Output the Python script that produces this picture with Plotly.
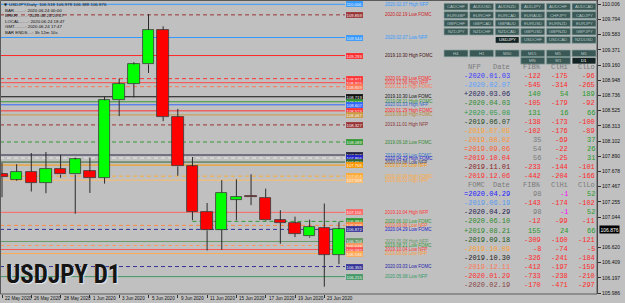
import plotly.graph_objects as go

W, H = 625, 303
PLOT_R = 597   # right edge of price area (px)
PLOT_B = 294   # bottom edge of price area (px)
BAR_PX = 14.65 # pixel spacing between daily bars
BAR0_PX = 2.0  # pixel of first bar

# ---------------- data ----------------
bar_dates = ["22 May", "25 May", "26 May", "27 May", "28 May", "29 May", "1 Jun", "2 Jun",
             "3 Jun", "4 Jun", "5 Jun", "8 Jun", "9 Jun", "10 Jun", "11 Jun", "12 Jun",
             "15 Jun", "16 Jun", "17 Jun", "18 Jun", "19 Jun", "22 Jun", "23 Jun", "24 Jun"]
opens = [107.64, 107.567, 107.674, 107.52, 107.72, 107.637, 107.68, 107.59,
         108.67, 108.90, 109.17, 109.65, 108.44, 107.75, 107.12, 106.868,
         107.288, 107.34, 107.316, 106.998, 106.96, 106.774, 106.896, 106.518]
highs = [107.80, 107.78, 107.935, 107.95, 107.91, 107.87, 107.87, 108.72,
         108.97, 109.20, 109.87, 109.70, 108.55, 107.88, 107.24, 107.558,
         107.57, 107.64, 107.44, 107.14, 107.05, 107.008, 107.232, 106.978]
lows = [107.32, 107.55, 107.40, 107.376, 107.59, 107.09, 107.38, 107.51,
        108.45, 108.71, 109.05, 108.38, 107.62, 107.00, 106.58, 106.588,
        106.998, 107.21, 106.99, 106.672, 106.765, 106.756, 106.075, 106.388]
closes = [107.60, 107.674, 107.52, 107.72, 107.637, 107.847, 107.59, 108.67,
          108.90, 109.17, 109.65, 108.44, 107.75, 107.12, 106.86, 107.386,
          107.326, 107.32, 106.998, 106.966, 106.812, 106.905, 106.522, 106.876]

date_tick_bars = [0, 2, 4, 6, 8, 10, 12, 14, 16, 18, 20, 22]
date_tick_text = ["22 May 2020", "26 May 2020", "28 May 2020", "1 Jun 2020", "3 Jun 2020",
                  "5 Jun 2020", "9 Jun 2020", "11 Jun 2020", "15 Jun 2020", "17 Jun 2020",
                  "19 Jun 2020", "23 Jun 2020"]

price_tick_text = ["110.006", "109.794", "109.583", "109.371", "109.160", "108.948", "108.736",
                   "108.525", "108.313", "108.102", "107.890", "107.678", "107.467", "107.255",
                   "107.044", "106.620", "106.409", "106.197", "105.986"]
current_price = 106.876
y_top, y_bottom = 110.066, 105.973

header_lines = ["USDJPY,Daily  106.518 106.978 106.388 106.876",
                "BAR.........: 2020.06.24 00:00",
                "BRKR........: 2020.06.24 20:47",
                "LOCAL.......: 2020.06.24 18:47",
                "GMT.........: 2020.06.24 17:47",
                "BAR ENDS....: 3h 12m 10s"]

level_prices = [110.006, 109.859, 109.544, 109.293, 108.971, 108.915, 108.859, 108.719,
                108.649, 108.607, 108.523, 108.467, 108.327, 108.089, 107.908, 107.866,
                107.810, 107.768, 107.614, 107.558, 107.110, 106.984, 106.928, 106.872,
                106.704, 106.648, 106.592, 106.536, 106.355, 106.215]
level_labels = ["2020.02.07 High NFP", "2020.02.19 Low FOMC", "2020.02.07 Low NFP",
                "2019.10.30 High FOMC", "2020.01.29 Low FOMC", "2019.12.06 High NFP",
                "2019.12.11 High FOMC", "2019.10.30 Low FOMC", "2019.08.21 High FOMC",
                "2020.01.03 High NFP", "2020.01.29 High FOMC", "2019.09.18 High FOMC",
                "2019.11.01 High NFP", "2019.09.18 Low FOMC", "2019.06.19 Low FOMC",
                "2020.04.29 High FOMC", "2020.03.06 Low NFP", "2019.07.05 Low NFP",
                "2019.10.09 High FOMC", "2019.08.02 High NFP", "2019.10.04 High NFP",
                "2020.06.10 Low FOMC", "2019.09.06 Low NFP", "2020.04.29 Low FOMC",
                "2020.05.08 High NFP", "2019.08.21 Low FOMC", "2019.10.04 Low NFP",
                "2019.08.02 Low NFP", "2020.03.03 Low FOMC", "2020.05.08 Low NFP"]
level_start_bar = [None] * 21 + [13] + [None] * 8

nfp_dates = ["-2020.01.03", "-2020.02.07", "+2020.03.06", "-2020.04.03", "+2020.05.08",
             "-2019.06.07", "-2019.07.05", "-2019.08.02", "=2019.09.06", "=2019.10.04",
             "-2019.11.01", "-2019.12.06"]
nfp_fib = [-122, -545, 140, -105, 131, -138, -102, 35, 54, 56, -233, -442]
nfp_clhi = [-175, -314, 54, -179, 16, -173, -176, -69, -22, -25, -144, -204]
nfp_cllo = [-96, -265, 189, -92, 66, -100, -89, 37, 26, 31, -101, -166]

fomc_dates = ["=2020.04.29", "-2019.06.19", "-2020.04.29", "-2020.06.10", "+2019.08.21",
              "-2019.09.18", "-2019.10.09", "-2019.10.30", "-2019.12.11", "-2020.01.29",
              "-2020.02.19"]
fomc_fib = [98, -143, 98, -12, 155, -309, -8, -326, -412, -733, -170]
fomc_clhi = [-1, -174, -1, -99, 24, -160, -74, -241, -197, -238, -471]
fomc_cllo = [52, -102, 52, -11, 66, -121, -5, -184, -159, -210, -297]

symbol_rows = [["CADCHF", "AUDUSD", "AUDNZD", "AUDJPY", "AUDCHF", "AUDCAD"],
               ["EURGBP", "EURCHF", "EURCAD", "EURAUD", "CHFJPY", "CADJPY"],
               ["GBPCHF", "GBPCAD", "GBPAUD", "EURUSD", "EURNZD", "EURJPY"],
               ["NZDJPY", "NZDCHF", "NZDCAD", "GBPUSD", "GBPNZD", "GBPJPY"],
               [None, None, "USDJPY", "USDCHF", "USDCAD", "NZDUSD"]]
tf_rows = [["H4", "H1", "M30", "M15", "M5", "M1"],
           [None, None, None, "MN", "W1", "D1"]]
active_symbol, active_tf = "USDJPY", "D1"

# ---------------- styles ----------------
BG = "#c0c0c0"
level_colors = ["#3399ff", "#993333", "#3399ff", "#ff2a2a", "#ff3333", "#ff4a4a", "#ff7755",
                "#111111", "#339933", "#3366ff", "#ff3333", "#cc9944", "#993333", "#339933",
                "#222244", "#e8e8e8", "#336633", "#ff9900", "#ffaa33", "#ffbb66", "#ff6666",
                "#339933", "#ff8844", "#333399", "#669966", "#ff9966", "#ff5555", "#ffaa55",
                "#333399", "#449966"]
level_dash = ["solid", "dash", "solid", "solid", "dash", "solid", "dash", "solid", "solid",
              "solid", "solid", "solid", "dash", "dash", "solid", "dash", "solid", "solid",
              "dash", "solid", "solid", "dash", "dash", "dash", "solid", "dash", "solid",
              "solid", "dash", "solid"]
label_colors = ["#3399ff", "#cc2222", "#3399ff", "#441111", "#ff2222", "#ff3333", "#ff7755",
                "#111111", "#339933", "#3366cc", "#ff2222", "#bb8833", "#883333", "#338833",
                "#3377cc", "#2222cc", "#333366", "#ff9900", "#ffaa33", "#ffaa44", "#ff3333",
                "#339933", "#ff6633", "#2222cc", "#669966", "#339933", "#ff3333", "#ff9933",
                "#2222aa", "#339966"]
box_colors = [c if c != "#e8e8e8" else "#2222cc" for c in level_colors]
nfp_colors = ["#3a3aff", "#5aa0ff", "#2a2a60", "#2e8b2e", "#2e9a4a", "#244a24", "#ffa030",
              "#ff9030", "#ff6030", "#ff3030", "#882222", "#ff3030"]
fomc_colors = ["#2020ff", "#5599ee", "#202050", "#2e8b2e", "#2e8b2e", "#225522", "#ffa030",
               "#222222", "#ff7755", "#ff3030", "#884444"]
RED, GREEN, GRAY, MAG = "#ff2a2a", "#2a9a2a", "#7a7a7a", "#ff00ff"

def px(x):
    return x / W

def py(y):
    return 1 - y / H

XR0 = -BAR0_PX / BAR_PX
XR1 = XR0 + PLOT_R / BAR_PX
LINE_END = XR0 + 345 / BAR_PX

fig = go.Figure()

# candle wicks (split so they do not cross the bodies)
wx, wy = [], []
for i in range(len(opens)):
    top, bot = max(opens[i], closes[i]), min(opens[i], closes[i])
    wx += [i, i, None, i, i, None]
    wy += [highs[i], top, None, bot, lows[i], None]
fig.add_trace(go.Scatter(x=wx, y=wy, mode="lines", line=dict(color="#2a2a2a", width=1),
                         hoverinfo="skip", showlegend=False))

# candle bodies
body_base = [min(o, c) for o, c in zip(opens, closes)]
body_len = [max(abs(c - o), 0.012) for o, c in zip(opens, closes)]
body_col = ["#00ff00" if c >= o else "#ff0000" for o, c in zip(opens, closes)]
fig.add_trace(go.Bar(x=list(range(len(opens))), y=body_len, base=body_base, width=0.78,
                     marker=dict(color=body_col, line=dict(color="#3a3a3a", width=0.8)),
                     hovertext=bar_dates, showlegend=False))

shapes = []
ann = []

# horizontal levels
for i, p in enumerate(level_prices):
    x0 = XR0 if level_start_bar[i] is None else level_start_bar[i]
    dash = "solid" if level_dash[i] == "solid" else "4px,3px"
    shapes.append(dict(type="line", xref="x", yref="y", x0=x0, x1=LINE_END, y0=p, y1=p,
                       line=dict(color=level_colors[i], width=1, dash=dash), layer="below"))
    ann.append(dict(xref="paper", yref="y", x=px(354), y=p, text=f"{p:.3f}", showarrow=False,
                    xanchor="center", yanchor="middle",
                    font=dict(family="Liberation Sans", size=4.2, color="#f4f4f4"),
                    bgcolor=box_colors[i], bordercolor=box_colors[i], borderwidth=0.6, borderpad=0))
    ann.append(dict(xref="paper", yref="y", x=px(383), y=p, text=level_labels[i], showarrow=False,
                    xanchor="left", yanchor="middle",
                    font=dict(family="Liberation Sans", size=4.5, color=label_colors[i])))

# frame of the chart
shapes.append(dict(type="rect", xref="paper", yref="paper", x0=px(0.5), x1=px(PLOT_R),
                   y0=py(PLOT_B), y1=py(0.5), line=dict(color="#5a5a5a", width=1)))

# header texts
ann.append(dict(xref="paper", yref="paper", x=px(2), y=py(4.5), text="▼", showarrow=False,
                xanchor="left", yanchor="middle", font=dict(family="DejaVu Sans", size=4, color="#111")))
for k, t in enumerate(header_lines):
    ann.append(dict(xref="paper", yref="paper", x=px(7 if k == 0 else 3), y=py(4.5 + 5.6 * k),
                    text=t, showarrow=False, xanchor="left", yanchor="middle",
                    font=dict(family="Liberation Sans", size=4.4, color="#111")))

# big symbol label
ann.append(dict(xref="paper", yref="paper", x=px(4), y=py(274), text="<b>USDJPY D1</b>",
                showarrow=False, xanchor="left", yanchor="middle",
                font=dict(family="Liberation Sans Narrow, Arial Narrow, Roboto Condensed, DejaVu Sans Condensed, Liberation Sans",
                          size=25, color="#141414", shadow="1px 1px 1px #e8e8e8")))

# date labels
for b, t in zip(date_tick_bars, date_tick_text):
    ann.append(dict(xref="x", yref="paper", x=b, y=py(298.5), text=t, showarrow=False,
                    xanchor="left", yanchor="middle", xshift=1,
                    font=dict(family="Liberation Sans", size=4.6, color="#111")))

# current price marker
ann.append(dict(xref="paper", yref="y", x=px(598.5), y=current_price, text=f"{current_price:.3f}",
                showarrow=False, xanchor="left", yanchor="middle",
                font=dict(family="Liberation Sans", size=5, color="#ffffff"),
                bgcolor="#000000", borderpad=0.5))

# buttons
COL_X = [444 + 25.6 * c for c in range(6)]
BW, BH = 24, 6.8
def button(x0, y0, label, active):
    fill = "#142424" if active else "#3a5856"
    border = "#e0e0e0" if active else "#8aa3a0"
    shapes.append(dict(type="rect", xref="paper", yref="paper", x0=px(x0), x1=px(x0 + BW),
                       y0=py(y0 + BH), y1=py(y0), fillcolor=fill, line=dict(color=border, width=0.7)))
    ann.append(dict(xref="paper", yref="paper", x=px(x0 + BW / 2), y=py(y0 + BH / 2), text=label,
                    showarrow=False, xanchor="center", yanchor="middle",
                    font=dict(family="Liberation Sans", size=4.3,
                              color="#ffffff" if active else "#b8c6c4")))

for r, row in enumerate(symbol_rows):
    for c, s in enumerate(row):
        if s:
            button(COL_X[c], 3.3 + 8.3 * r, s, s == active_symbol)
for r, row in enumerate(tf_rows):
    for c, s in enumerate(row):
        if s:
            button(COL_X[c], 50 + 7.3 * r, s, s == active_tf)

# tables
TFONT = "Liberation Mono"
TSIZE = 7
COLS_R = [512, 543, 570, 597]

def num_color(v, col):
    if v == -1:
        return MAG
    if v < 0:
        return RED
    if col == 0 and v < 100:
        return GRAY
    return GREEN

def table(y0, title, dates, fib, clhi, cllo, colors):
    hdr = [title, "Date", "FIB%", "ClHi", "ClLo"]
    ann.append(dict(xref="paper", yref="paper", x=px(466), y=py(y0), text=hdr[0], showarrow=False,
                    xanchor="left", yanchor="middle", font=dict(family=TFONT, size=TSIZE, color=GRAY)))
    for j in range(4):
        ann.append(dict(xref="paper", yref="paper", x=px(COLS_R[j]), y=py(y0), text=hdr[j + 1],
                        showarrow=False, xanchor="right", yanchor="middle",
                        font=dict(family=TFONT, size=TSIZE, color=GRAY)))
    for k in range(len(dates)):
        yy = py(y0 + 9.1 * (k + 1))
        ann.append(dict(xref="paper", yref="paper", x=px(COLS_R[0]), y=yy, text=dates[k],
                        showarrow=False, xanchor="right", yanchor="middle",
                        font=dict(family=TFONT, size=TSIZE, color=colors[k])))
        for j, v in enumerate([fib[k], clhi[k], cllo[k]]):
            ann.append(dict(xref="paper", yref="paper", x=px(COLS_R[j + 1]), y=yy, text=str(v),
                            showarrow=False, xanchor="right", yanchor="middle",
                            font=dict(family=TFONT, size=TSIZE, color=num_color(v, j))))

table(67, "NFP", nfp_dates, nfp_fib, nfp_clhi, nfp_cllo, nfp_colors)
table(185, "FOMC", fomc_dates, fomc_fib, fomc_clhi, fomc_cllo, fomc_colors)

fig.update_layout(
    width=W, height=H, paper_bgcolor=BG, plot_bgcolor=BG,
    margin=dict(l=0, r=0, t=0, b=0, autoexpand=False),
    showlegend=False, bargap=0,
    shapes=shapes, annotations=ann,
    xaxis=dict(domain=[0, PLOT_R / W], range=[XR0, XR1], showgrid=False, zeroline=False,
               showline=False, tickmode="array", tickvals=date_tick_bars, ticks="outside",
               ticklen=3, tickcolor="#333", showticklabels=False, fixedrange=True),
    yaxis=dict(domain=[(H - PLOT_B) / H, 1], range=[y_bottom, y_top], side="right",
               showgrid=False, zeroline=False, showline=True, linecolor="#333", linewidth=1,
               tickmode="array", tickvals=[float(t) for t in price_tick_text],
               ticktext=price_tick_text, ticks="outside", ticklen=3, tickcolor="#333",
               tickfont=dict(family="Liberation Sans", size=5, color="#111"), fixedrange=True),
)

fig.write_html("out.html")
